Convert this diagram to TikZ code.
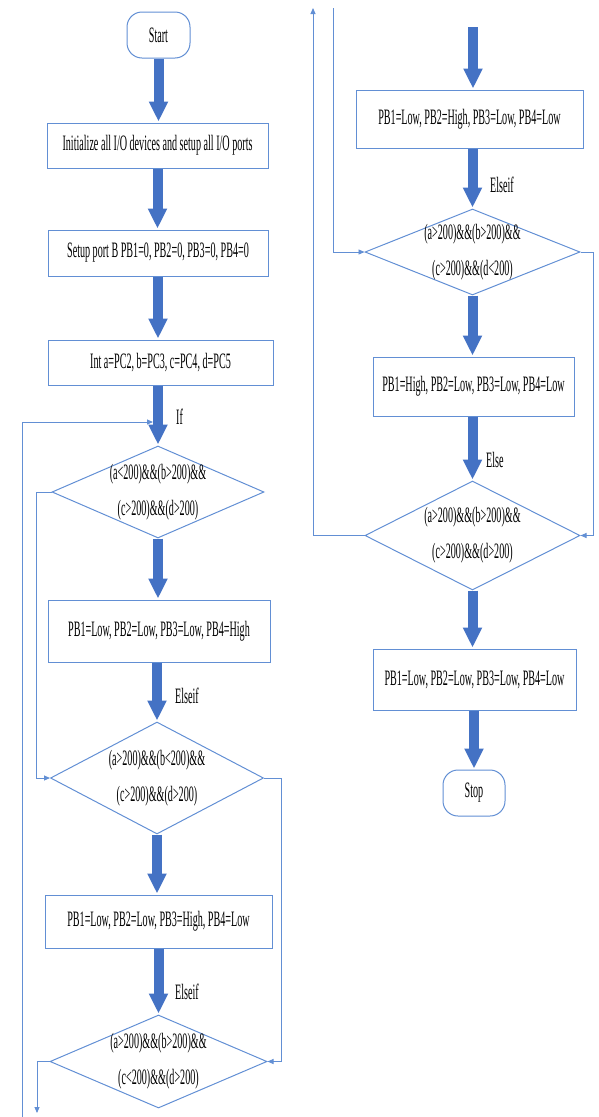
\documentclass[tikz,border=0pt]{standalone}
\usepackage{fontspec}
\setmainfont{Liberation Serif}[FakeStretch=0.46]
\usetikzlibrary{arrows.meta,shapes.geometric}
\definecolor{abl}{RGB}{68,114,196}
\definecolor{lbl}{RGB}{98,143,212}
\tikzset{
 box/.style={draw=lbl, line width=1pt, inner sep=0pt, fill=white},
 term/.style={box, rounded corners=15pt},
 dia/.style={draw=lbl, line width=1pt, shape=diamond, inner sep=0pt},
 txt/.style={align=center, inner sep=0pt},
 fatarrow/.style={abl, line width=10pt, -{Triangle[width=18pt,length=20pt]}, shorten >=1pt},
 link/.style={lbl, line width=0.9pt},
 linkarrow/.style={link, -{Triangle[length=6pt,width=5pt]}},
 lab/.style={anchor=west, inner sep=0pt}
}
\begin{document}
\begin{tikzpicture}[x=1pt,y=-1pt,font=\fontsize{22}{36}\selectfont]
\useasboundingbox (0,0) rectangle (598,1117);
% left column
\node[term,minimum width=63pt,minimum height=46pt] (start) at (158.5,35) {Start};
\node[box,minimum width=221pt,minimum height=45pt] (init) at (157.5,145.5) {Initialize all I/O devices and setup all I/O ports};
\node[box,minimum width=220pt,minimum height=46pt] (setup) at (158,253) {Setup port B PB1=0, PB2=0, PB3=0, PB4=0};
\node[box,minimum width=225pt,minimum height=45pt] (intb) at (160.5,362.5) {Int a=PC2, b=PC3, c=PC4, d=PC5};
\node[dia,minimum width=212pt,minimum height=92pt] (d1) at (158,492) {};
\node[txt] (d1t) at (d1) {(a<200)\&\&(b>200)\&\&\\(c>200)\&\&(d>200)};
\node[box,minimum width=222pt,minimum height=62pt] (b1) at (159,631) {PB1=Low, PB2=Low, PB3=Low, PB4=High};
\node[dia,minimum width=213pt,minimum height=112pt] (d2) at (157,778) {};
\node[txt] (d2t) at (d2) {(a>200)\&\&(b<200)\&\&\\(c>200)\&\&(d>200)};
\node[box,minimum width=227pt,minimum height=53pt] (b2) at (158.5,921.5) {PB1=Low, PB2=Low, PB3=High, PB4=Low};
\node[dia,minimum width=217pt,minimum height=93pt] (d3) at (158.5,1061.5) {};
\node[txt] (d3t) at (d3) {(a>200)\&\&(b>200)\&\&\\(c<200)\&\&(d>200)};
% right column
\coordinate (rtop) at (473,27);
\node[box,minimum width=227pt,minimum height=58pt] (b3) at (469.5,119) {PB1=Low, PB2=High, PB3=Low, PB4=Low};
\node[dia,minimum width=215pt,minimum height=86pt] (d4) at (472.5,252) {};
\node[txt] (d4t) at (d4) {(a>200)\&\&(b>200)\&\&\\(c>200)\&\&(d<200)};
\node[box,minimum width=201pt,minimum height=59pt] (b4) at (473.5,386.5) {PB1=High, PB2=Low, PB3=Low, PB4=Low};
\node[dia,minimum width=215pt,minimum height=109pt] (d6) at (472.5,535.5) {};
\node[txt] (d6t) at (d6) {(a>200)\&\&(b>200)\&\&\\(c>200)\&\&(d>200)};
\node[box,minimum width=203pt,minimum height=61pt] (b5) at (474.5,679.5) {PB1=Low, PB2=Low, PB3=Low, PB4=Low};
\node[term,minimum width=62pt,minimum height=46pt] (stop) at (474,793) {Stop};
% thick arrows
\draw[fatarrow] (start.south) -- (start.south |- init.north);
\draw[fatarrow] (init.south) -- (init.south |- setup.north);
\draw[fatarrow] (setup.south) -- (setup.south |- intb.north);
\draw[fatarrow] (d1.north |- intb.south) -- (d1.north);
\draw[fatarrow] (d1.south) -- (d1.south |- b1.north);
\draw[fatarrow] (d2.north |- b1.south) -- (d2.north);
\draw[fatarrow] (d2.south) -- (d2.south |- b2.north);
\draw[fatarrow] (d3.north |- b2.south) -- (d3.north);
\draw[fatarrow] (rtop) -- (rtop |- b3.north);
\draw[fatarrow] (d4.north |- b3.south) -- (d4.north);
\draw[fatarrow] (d4.south) -- (d4.south |- b4.north);
\draw[fatarrow] (d6.north |- b4.south) -- (d6.north);
\draw[fatarrow] (d6.south) -- (d6.south |- b5.north);
\draw[fatarrow] (stop.north |- b5.south) -- (stop.north);
% labels
\node[lab] (lif) at (176,417) {If};
\node[lab] (le1) at (175,696) {Elseif};
\node[lab] (le2) at (175,992) {Elseif};
\node[lab] (le3) at (490,185) {Elseif};
\node[lab] (le4) at (486,460) {Else};
% thin connectors
\coordinate (lbot) at (22,1117);
\coordinate (ifin) at (153,422);
\draw[linkarrow] (lbot) |- (ifin);
\draw[linkarrow] (d1.west) -- ++(-15,0) |- (d2.west);
\draw[linkarrow] (d2.east) -- ++(17,0) |- (d3.east);
\coordinate (d3out) at (37,1113);
\draw[linkarrow] (d3.west) -| (d3out);
\coordinate (rin) at (333,8);
\draw[linkarrow] (rin) |- (d4.west);
\draw[linkarrow] (d4.east) -- ++(13,0) |- (d6.east);
\coordinate (rout) at (313,8);
\draw[linkarrow] (d6.west) -| (rout);
\end{tikzpicture}
\end{document}
